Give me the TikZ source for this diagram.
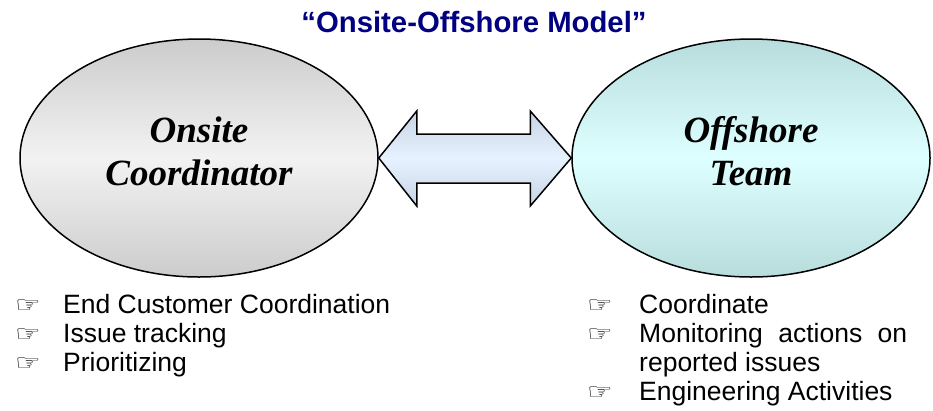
\documentclass[tikz,border=0pt]{standalone}
\usepackage{fontspec}
\setmainfont{Liberation Sans}
\newfontfamily\ovalfont{Liberation Serif}
\newfontfamily\handfont{DejaVu Sans}
\usetikzlibrary{shapes.geometric,calc}

\definecolor{titleblue}{RGB}{0,0,128}
\definecolor{greyedge}{RGB}{204,204,204}
\definecolor{greymid}{RGB}{242,242,242}
\definecolor{tealedge}{RGB}{184,220,220}
\definecolor{tealmid}{RGB}{222,255,255}
\definecolor{arrowedge}{RGB}{200,212,228}
\definecolor{arrowmid}{RGB}{230,242,255}

% widened pointing-hand bullet
\newcommand{\pointhand}{\scalebox{1.3}[1]{☞}}

\begin{document}
\begin{tikzpicture}[x=1pt,y=-1pt,
  bubble/.style={ellipse, draw=black, line width=1.5pt,
    minimum width=358pt, minimum height=238pt, inner sep=0pt},
  greybubble/.style={bubble, top color=greyedge, bottom color=greyedge, middle color=greymid},
  tealbubble/.style={bubble, top color=tealedge, bottom color=tealedge, middle color=tealmid},
  ovallabel/.style={anchor=base, inner sep=0pt, align=center,
    font=\ovalfont\bfseries\itshape\fontsize{37}{43}\selectfont},
  blockarrow/.style={draw=black, line width=1.5pt, line join=miter,
    top color=arrowedge, bottom color=arrowedge, middle color=arrowmid},
  handmark/.style={anchor=base west, inner sep=0pt,
    font=\handfont\fontsize{22}{28}\selectfont},
  itemtext/.style={anchor=base west, inner sep=0pt,
    font=\fontsize{26.5}{29}\selectfont},
  heading/.style={anchor=base, inner sep=0pt, text=titleblue,
    font=\bfseries\fontsize{29.3}{34}\selectfont}]

\path[use as bounding box] (0,0) rectangle (933,410);

% heading
\node[heading] (title) at (474,32) {“Onsite-Offshore Model”};

% the two parties
\node[greybubble] (onsite) at (199,158) {};
\node[tealbubble] (offshore) at (751,158) {};
% the base anchor of a two-line label sits on its last line
\node[ovallabel] (onsitename) at ($(onsite.center)+(0,27)$) {Onsite\\Coordinator};
\node[ovallabel] (offshorename) at ($(offshore.center)+(0,27)$) {Offshore\\Team};

% two-way block arrow between them
\draw[blockarrow]
  (onsite.east)
  -- ($(onsite.east)+(38,-47)$) -- ($(onsite.east)+(38,-24)$)
  -- ($(offshore.west)+(-41,-24)$) -- ($(offshore.west)+(-41,-47)$)
  -- (offshore.west)
  -- ($(offshore.west)+(-41,48)$) -- ($(offshore.west)+(-41,25)$)
  -- ($(onsite.east)+(38,25)$) -- ($(onsite.east)+(38,48)$)
  -- cycle;

% onsite duties
\node[handmark] (h1) at (15,312) {\pointhand};
\node[itemtext] (t1) at (63,313) {End Customer Coordination};
\node[handmark] (h2) at (15,341) {\pointhand};
\node[itemtext] (t2) at (63,342) {Issue tracking};
\node[handmark] (h3) at (15,370) {\pointhand};
\node[itemtext] (t3) at (63,371) {Prioritizing};

% offshore duties
\node[handmark] (h4) at (587,312) {\pointhand};
\node[itemtext] (t4) at (639,313) {Coordinate};
\node[handmark] (h5) at (587,341) {\pointhand};
\node[itemtext] (t5) at (639,342) {\makebox[268pt][s]{Monitoring actions on}};
\node[itemtext] (t6) at (639,371) {reported issues};
\node[handmark] (h6) at (587,399) {\pointhand};
\node[itemtext] (t7) at (639,400) {Engineering Activities};
\end{tikzpicture}
\end{document}
